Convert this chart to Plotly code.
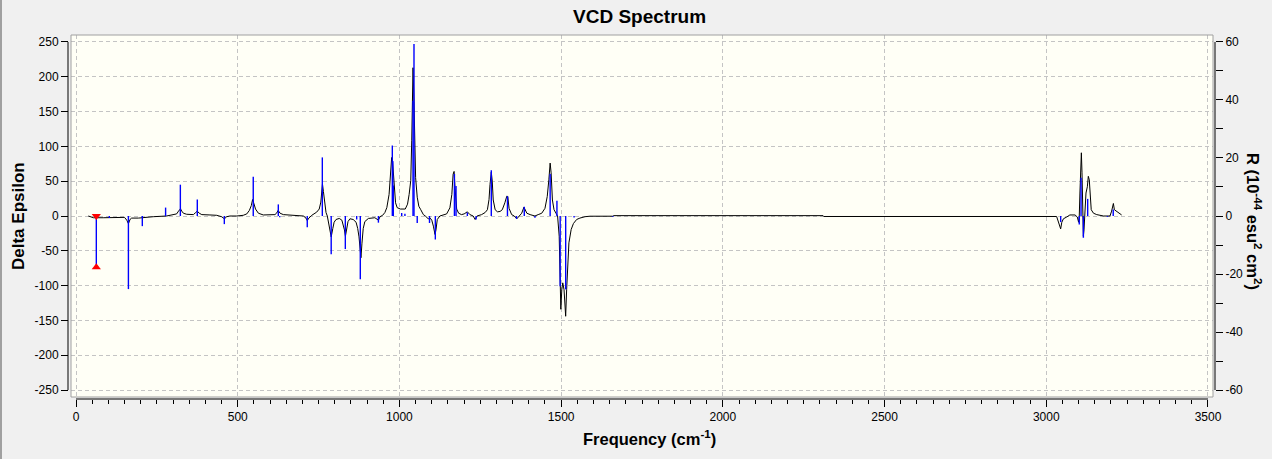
import plotly.graph_objects as go

# Broadened VCD curve (Delta Epsilon, left axis)
freq_curve = [38, 45, 54, 84, 105, 126, 150, 157, 162, 167, 172, 193, 208, 239, 280, 301, 311, 317, 323, 327,
              332, 342, 363, 370, 375, 381, 389, 414, 435, 450, 459, 466, 476, 497, 517, 528, 536, 542, 546, 550,
              555, 564, 579, 615, 620, 625, 631, 641, 672, 703, 711, 715, 720, 729, 744, 752, 757, 760, 762, 765,
              769, 773, 777, 781, 785, 789, 794, 798, 804, 814, 822, 826, 830, 833, 836, 841, 847, 857, 866, 871,
              875, 878, 881, 884, 888, 893, 904, 924, 931, 935, 940, 948, 955, 961, 968, 970, 973, 976, 979, 983,
              988, 993, 1003, 1018, 1025, 1030, 1035, 1038, 1040, 1042, 1045, 1047, 1050, 1055, 1060, 1066, 1074, 1080, 1089, 1095,
              1100, 1105, 1110, 1113, 1117, 1125, 1135, 1146, 1156, 1162, 1166, 1169, 1172, 1177, 1183, 1192, 1200, 1210, 1218, 1228,
              1234, 1240, 1254, 1265, 1272, 1277, 1280, 1284, 1287, 1290, 1296, 1303, 1311, 1318, 1326, 1332, 1335, 1339, 1347, 1355,
              1363, 1370, 1378, 1385, 1388, 1394, 1404, 1419, 1429, 1440, 1450, 1457, 1462, 1466, 1469, 1473, 1478, 1484, 1489, 1494,
              1497, 1499, 1502, 1505, 1509, 1512, 1514, 1517, 1520, 1524, 1531, 1538, 1548, 1558, 1574, 1589, 1660, 1662, 2310, 2312,
              3032, 3040, 3044.5, 3048, 3053, 3063, 3073, 3089, 3096, 3100, 3102, 3104, 3106, 3108.5, 3110.5, 3112.6, 3114.7, 3116.6, 3119.7, 3122.8,
              3127, 3130, 3133, 3135, 3139, 3146, 3156, 3177, 3197, 3202, 3205, 3207.5, 3210.6, 3216, 3223, 3233]
eps_curve = [0, -1, -2.5, -2.5, -2, -1.5, -2, -6, -11, -5, -3, -3, -2, -1, 0, 1.5, 3, 7, 10.3, 7,
             4, 2.5, 2, 5, 7, 4, 2, 1.5, 1, -1, -4, -1, 0, 0, 1, 3, 8, 15, 23.7, 18,
             10, 4, 1.5, 2, 4, 8, 4, 2, 1.5, 0, -3, -6.5, -3, 1, 5.5, 10, 20, 35, 46, 35,
             15, 5, 0, -12, -22, -30, -18, -9, -5, -3.5, -6, -12, -20, -29, -18, -8, -4, -5, -9, -18,
             -30, -43, -60, -40, -18, -8, -3.5, -2.5, -4, -6, -1, 1, 5, 12, 31, 45, 76, 84, 77, 46,
             19, 12, 10, 10, 17, 31, 51, 108, 180, 213, 165, 113, 55, 27, 14, 9, 2, 0, -4, -3,
             -6, -14.6, -26.5, -20, -5, 0, 1, 3, 11.7, 31, 60, 64, 40, 10, 4, 2, 3, 6, 2, 0,
             -5, 0, 2, 5, 9, 23.7, 45, 63, 50, 23, 9, 6, 6.5, 9, 19, 28.5, 28, 11, 2, 0,
             -4, 0, 4, 12.7, 10, 4, 2, 0, 2, 4, 11, 28, 52, 76, 62, 23, 9, 4, 0, -29,
             -96, -134, -106, -96, -106, -130, -144, -106, -67, -38.5, -19.4, -10.8, -5, -3, -1, -0.3, -0.3, 0.5, 0.5, -0.7,
             -0.7, -12, -18.5, -9, -4, -1.5, 1.5, 1.5, -1.5, -9, 0, 33, 62, 90.8, 62, 13, -29, -20, 13, 33,
             42, 57, 52, 33, 9, 4, 2, 0, 0, 7, 13, 18, 9, 7, 4, 1.5]

# Rotatory strengths (right axis, 10^-44 esu^2 cm^2)
freq_sticks = [62.8, 103, 162, 205, 277, 322.6, 375, 458.6, 548, 625.5, 630, 715, 761.6, 789, 832.7, 867.8, 879, 935,
               978, 979.5, 981, 1007, 1017, 1042, 1045, 1055, 1093, 1111, 1170, 1175, 1210, 1237, 1284, 1334, 1362,
               1386, 1419, 1466, 1487, 1497, 1514, 1540, 1660, 3044.5, 3102, 3107.5, 3114.7, 3128, 3189, 3207]
rot_sticks = [-17.7, -0.7, -25.2, -3.5, 2.9, 10.8, 5.7, -2.8, 13.5, 4.0, -0.4, -3.9, 20.2, -13.2, -11.4, -1.2, -21.8, -2.3,
              24.3, 19.0, 10.5, 1.0, 0.8, 39.7, 59.3, -2.4, -2.4, -8.1, 14.5, 10.3, 1.2, -1.2, 15.8, 6.8, -1.0,
              3.2, -0.6, 14.5, 5.3, -24.2, -25.3, -0.5, -0.3, -2.1, -2.9, 13.2, -7.5, 5.9, -0.3, 2.2]

# selected mode (red markers)
sel_freq = 62.8
sel_rot = -17.7

left_ticks = [-250, -200, -150, -100, -50, 0, 50, 100, 150, 200, 250]
right_ticks = [-60, -40, -20, 0, 20, 40, 60]
right_minor = [-50, -30, -10, 10, 30, 50]

FONT = "Liberation Sans, Arial, sans-serif"

# stick lines from zero
sx, sy = [], []
for f, r in zip(freq_sticks, rot_sticks):
    sx += [f, f, None]
    sy += [0, r, None]

fig = go.Figure()
fig.add_trace(go.Scatter(x=freq_curve, y=eps_curve, mode='lines',
                         line=dict(color='black', width=1), yaxis='y', hoverinfo='skip'))
fig.add_trace(go.Scatter(x=sx, y=sy, mode='lines', line=dict(color='#0000FF', width=1.4),
                         yaxis='y2', hoverinfo='skip'))
fig.add_trace(go.Scatter(x=[sel_freq, sel_freq], y=[0, sel_rot], mode='markers', yaxis='y2',
                         marker=dict(symbol=['triangle-down', 'triangle-up'], size=8, color='#FF0000')))

L, R, T, B = 68, 57, 35, 60
pw, ph = 1272 - L - R, 459 - T - B

grid = dict(showgrid=True, gridcolor='#C4C4C4', griddash='4px,3px', gridwidth=1, zeroline=False)

fig.update_layout(
    width=1272, height=459,
    margin=dict(l=L, r=R, t=T, b=B, pad=0),
    paper_bgcolor='#F0F0F0', plot_bgcolor='#FFFFF6',
    showlegend=False,
    font=dict(family=FONT, size=12, color='black'),
    xaxis=dict(domain=[3 / pw, 1 - 2 / pw], range=[-15.5, 3515.5], anchor='free', position=0,
               showline=False, ticks='outside', ticklen=7, tickcolor='black',
               tickmode='linear', tick0=0, dtick=500,
               minor=dict(tick0=0, dtick=50, ticks='outside', ticklen=4, tickcolor='black', showgrid=False),
               tickfont=dict(size=12, family=FONT), **grid),
    yaxis=dict(domain=[2 / ph, 1], range=[-260, 260], anchor='free', position=0,
               showline=False, ticks='outside', ticklen=7, tickcolor='black',
               tickvals=left_ticks, ticktext=[str(v) for v in left_ticks],
               tickfont=dict(size=12, family=FONT), **grid),
    yaxis2=dict(overlaying='y', side='right', anchor='free', position=1,
                range=[-260 * 60 / 250, 260 * 60 / 250],
                showline=False, ticks='outside', ticklen=7, tickcolor='black',
                tickvals=right_ticks, ticktext=[str(v) for v in right_ticks],
                minor=dict(tickvals=right_minor, ticks='outside', ticklen=7, tickcolor='black', showgrid=False),
                showgrid=False, zeroline=False, tickfont=dict(size=12, family=FONT)),
)

shapes = [
    # plot area frame
    dict(type='rect', xref='paper', yref='paper', x0=3 / pw, x1=1 - 2 / pw, y0=2 / ph, y1=1,
         line=dict(color='#A0A0A0', width=1)),
    # axis lines over the tick span only
    dict(type='line', xref='x', yref='paper', x0=0, x1=3500, y0=0, y1=0, line=dict(color='black', width=1)),
    dict(type='line', xref='paper', yref='y', x0=0, x1=0, y0=-250, y1=250, line=dict(color='black', width=1)),
    dict(type='line', xref='paper', yref='y', x0=1, x1=1, y0=-250, y1=250, line=dict(color='black', width=1)),
    # window frame
    dict(type='line', xref='paper', yref='paper', x0=(1 - L) / pw, x1=(1 - L) / pw, y0=(B - 458) / ph, y1=(B + ph + T) / ph,
         line=dict(color='#A0A0A0', width=2)),
    dict(type='line', xref='paper', yref='paper', x0=(1 - L) / pw, x1=(1272 - L) / pw, y0=(B - 457) / ph, y1=(B - 457) / ph,
         line=dict(color='#A0A0A0', width=1)),
]
fig.update_layout(shapes=shapes)

fig.add_annotation(text='<b>VCD Spectrum</b>', xref='paper', yref='paper', x=(639 - L) / pw, y=(399 - 17) / ph,
                   showarrow=False, font=dict(size=19, family=FONT), xanchor='center', yanchor='middle')
fig.add_annotation(text='<b>Delta Epsilon</b>', xref='paper', yref='paper', x=(18 - L) / pw, y=(399 - 216) / ph,
                   showarrow=False, textangle=-90, font=dict(size=17, family=FONT), xanchor='center', yanchor='middle')
fig.add_annotation(text='<b>Frequency (cm<sup>-1</sup>)</b>', xref='paper', yref='paper', x=(649 - L) / pw,
                   y=(399 - 438) / ph, showarrow=False, font=dict(size=16.5, family=FONT),
                   xanchor='center', yanchor='middle')
fig.add_annotation(text='<b>R (10<sup>-44</sup> esu<sup>2</sup> cm<sup>2</sup>)</b>', xref='paper', yref='paper',
                   x=(1254 - L) / pw, y=(399 - 221) / ph, showarrow=False, textangle=90,
                   font=dict(size=16.5, family=FONT), xanchor='center', yanchor='middle')

fig.write_html("out.html", config={'displayModeBar': False},
               post_script="document.body.style.margin='0px';document.body.style.overflow='hidden';")
